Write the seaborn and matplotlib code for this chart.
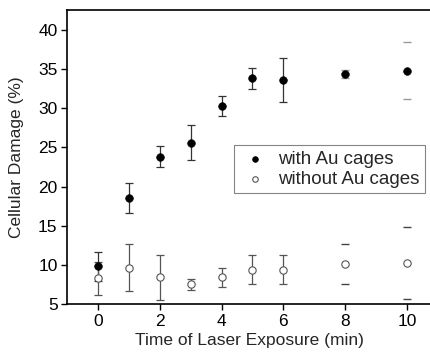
import numpy as np
import pandas as pd
import matplotlib
matplotlib.use("Agg")
import matplotlib.pyplot as plt
import seaborn as sns

# time of laser exposure (min)
time_min = [0, 1, 2, 3, 4, 5, 6, 8, 10]
# cellular damage (%) with Au cages and error
with_cages = [9.8, 18.5, 23.8, 25.6, 30.3, 33.8, 33.6, 34.4, 34.8]
with_err = [1.8, 1.9, 1.35, 2.2, 1.3, 1.4, 2.8, 0.5, 3.6]
# cellular damage (%) without Au cages and error
without_cages = [8.3, 9.65, 8.4, 7.5, 8.4, 9.4, 9.4, 10.1, 10.2]
without_err = [2.1, 3.0, 2.9, 0.7, 1.25, 1.8, 1.85, 2.55, 4.6]
x_ticks = [0, 2, 4, 6, 8, 10]
y_ticks = [5, 10, 15, 20, 25, 30, 35, 40]

df = pd.DataFrame({
    "time": time_min,
    "with": with_cages, "with_err": with_err,
    "without": without_cages, "without_err": without_err,
})

sns.set_style("ticks")
plt.rcParams["font.family"] = ["Liberation Sans", "DejaVu Sans"]

fig = plt.figure(figsize=(4.3, 3.56), dpi=100)
ax = fig.add_axes([0.1565, 0.146, 0.847, 0.826])

# error bars: lines only visible for first seven points, caps only for 8 and 10 min
full = df["time"] <= 6
ax.errorbar(df.loc[full, "time"], df.loc[full, "with"], yerr=df.loc[full, "with_err"],
            fmt="none", ecolor="#333333", elinewidth=0.9, capsize=3, capthick=0.9)
ax.errorbar(df.loc[full, "time"], df.loc[full, "without"], yerr=df.loc[full, "without_err"],
            fmt="none", ecolor="#555555", elinewidth=0.9, capsize=3, capthick=0.9)
ax.errorbar(df.loc[~full, "time"], df.loc[~full, "with"], yerr=df.loc[~full, "with_err"],
            fmt="none", ecolor="#999999", elinewidth=0, capsize=3, capthick=1.0)
ax.errorbar(df.loc[~full, "time"], df.loc[~full, "without"], yerr=df.loc[~full, "without_err"],
            fmt="none", ecolor="#444444", elinewidth=0, capsize=3, capthick=1.0)

sns.scatterplot(data=df, x="time", y="with", ax=ax, color="black", edgecolor="black",
                s=30, marker="o", linewidth=0.5, label="with Au cages", zorder=3)
sns.scatterplot(data=df, x="time", y="without", ax=ax, facecolor="white", edgecolor="#555555",
                s=28, marker="o", linewidth=0.8, label="without Au cages", zorder=3)

ax.set_xlim(-1, 10.8)
ax.set_ylim(5, 42.55)
ax.set_xticks(x_ticks)
ax.set_yticks(y_ticks)
ax.tick_params(direction="out", length=4, width=1, labelsize=12.5, pad=3, colors="black")
for s in ax.spines.values():
    s.set_linewidth(1.2)
    s.set_color("black")
ax.set_xlabel("Time of Laser Exposure (min)", fontsize=12.5, labelpad=3)
ax.set_ylabel("Cellular Damage (%)", fontsize=12.5, labelpad=10)

leg = ax.legend(loc="upper right", bbox_to_anchor=(0.982, 0.541), borderaxespad=0,
                fancybox=False, frameon=True, fontsize=13.5, handlelength=1.6,
                handletextpad=0.45, borderpad=0.3, labelspacing=0.15, markerscale=0.75)
leg.get_frame().set_edgecolor("#666666")
leg.get_frame().set_linewidth(0.8)

fig.savefig("out.png", dpi=100)
